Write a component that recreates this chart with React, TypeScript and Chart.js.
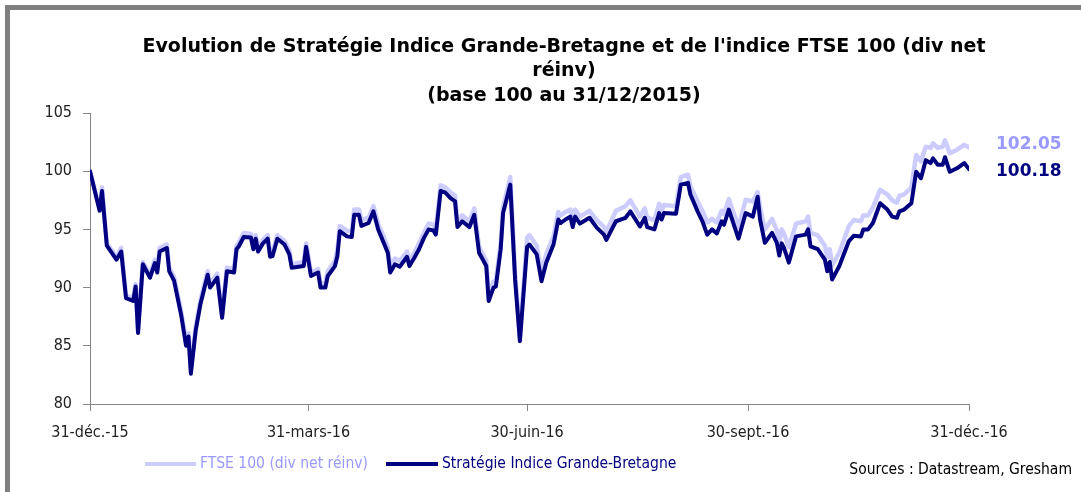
import React, { useEffect, useRef } from 'react';
import { Chart, registerables } from 'chart.js';

Chart.register(...registerables);

// Days since 31/12/2015
const days = [
  0, 4, 5, 7, 11, 13, 15, 18, 19, 20, 22, 25, 27, 28, 29, 32, 33, 35, 38, 40,
  41, 42, 44, 46, 49, 50, 53, 55, 57, 60, 61, 62, 64, 67, 68, 69, 70, 72, 74, 75,
  76, 78, 81, 83, 84, 89, 90, 92, 95, 96, 98, 99, 102, 103, 104, 107, 109, 110, 112, 113,
  116, 118, 120, 124, 125, 127, 129, 132, 133, 135, 137, 139, 141, 143, 144, 146, 148, 150, 152, 153,
  155, 158, 160, 162, 165, 166, 168, 169, 171, 172, 175, 177, 179, 182, 183, 186, 188, 190, 193, 195,
  196, 198, 200, 201, 202, 204, 208, 211, 214, 215, 219, 223, 225, 229, 231, 232, 235, 237, 238, 239,
  244, 246, 249, 250, 253, 255, 257, 259, 261, 263, 264, 266, 270, 273, 276, 278, 279, 281, 284, 286,
  287, 288, 289, 291, 294, 298, 299, 300, 303, 306, 307, 308, 309, 312, 316, 318, 321, 322, 324, 326,
  329, 332, 334, 336, 337, 339, 342, 344, 346, 348, 350, 351, 353, 355, 356, 358, 361, 364, 366,
];

const strategie = [
  100.0, 96.6, 98.3, 93.6, 92.4, 93.1, 89.1, 88.85, 90.1, 86.1, 92.0, 90.85, 92.1, 91.3, 93.1, 93.4, 91.4, 90.6, 87.6, 85.0,
  85.8, 82.6, 86.3, 88.6, 91.1, 90.0, 90.85, 87.4, 91.4, 91.3, 93.3, 93.55, 94.35, 94.3, 93.3, 94.2, 93.1, 93.8, 94.2, 92.65,
  92.7, 94.2, 93.7, 92.85, 91.7, 91.85, 93.5, 91.0, 91.3, 90.0, 90.0, 91.0, 91.85, 92.7, 94.85, 94.4, 94.35, 96.25, 96.25, 95.3,
  95.55, 96.55, 95.0, 93.0, 91.3, 92.0, 91.8, 92.65, 91.85, 92.55, 93.3, 94.25, 95.0, 94.9, 94.55, 98.3, 98.15, 97.7, 97.4, 95.2,
  95.7, 95.2, 96.25, 93.0, 91.85, 88.85, 90.0, 90.1, 93.3, 96.4, 98.85, 90.7, 85.4, 93.5, 93.7, 92.85, 90.55, 92.15, 93.7, 95.85,
  95.55, 95.85, 96.1, 95.2, 96.1, 95.5, 96.0, 95.15, 94.55, 94.1, 95.7, 96.0, 96.55, 95.25, 96.0, 95.2, 95.0, 96.4, 95.85, 96.4,
  96.35, 98.85, 99.0, 98.0, 96.55, 95.7, 94.55, 95.0, 94.65, 95.7, 95.4, 96.7, 94.2, 96.4, 96.1, 97.8, 95.85, 93.85, 94.7, 93.85,
  92.75, 93.8, 93.4, 92.15, 94.4, 94.55, 95.0, 93.55, 93.3, 92.4, 91.4, 92.2, 90.7, 91.85, 94.0, 94.45, 94.4, 95.0, 95.0, 95.55,
  97.25, 96.7, 96.1, 96.0, 96.55, 96.7, 97.25, 99.95, 99.4, 100.95, 100.7, 101.1, 100.55, 100.55, 101.2, 99.95, 100.25, 100.7, 100.18,
];

const ftse = [
  100.0, 96.8, 98.6, 93.8, 92.6, 93.4, 89.3, 89.1, 90.3, 86.4, 92.2, 91.1, 92.4, 91.6, 93.4, 93.7, 91.7, 90.9, 87.9, 85.3,
  86.1, 83.0, 86.6, 88.9, 91.4, 90.3, 91.2, 87.7, 91.7, 91.6, 93.6, 93.9, 94.7, 94.6, 93.6, 94.5, 93.4, 94.1, 94.5, 92.9,
  93.0, 94.5, 94.0, 93.2, 92.0, 92.2, 93.8, 91.3, 91.6, 90.3, 90.4, 91.4, 92.3, 93.2, 95.3, 94.9, 94.8, 96.7, 96.7, 95.8,
  96.0, 97.0, 95.5, 93.5, 91.8, 92.5, 92.3, 93.1, 92.3, 93.0, 93.8, 94.7, 95.5, 95.4, 95.0, 98.8, 98.6, 98.2, 97.9, 95.7,
  96.2, 95.7, 96.8, 93.5, 92.3, 89.3, 90.5, 90.6, 93.8, 96.9, 99.5, 91.2, 85.8, 94.3, 94.5, 93.6, 91.3, 92.9, 94.4, 96.5,
  96.2, 96.5, 96.7, 95.8, 96.7, 96.1, 96.6, 95.8, 95.2, 94.8, 96.6, 97.0, 97.5, 96.1, 96.8, 96.0, 95.8, 97.2, 96.6, 97.1,
  97.0, 99.5, 99.7, 98.7, 97.4, 96.6, 95.6, 95.9, 95.6, 96.6, 96.3, 97.6, 95.2, 97.55, 97.4, 98.2, 96.9, 95.0, 95.9, 94.9,
  94.0, 95.0, 94.6, 93.5, 95.5, 95.7, 96.1, 94.7, 94.5, 93.6, 92.6, 93.3, 91.9, 93.0, 95.3, 95.8, 95.7, 96.2, 96.2, 96.9,
  98.4, 98.0, 97.5, 97.3, 97.9, 98.0, 98.6, 101.4, 100.85, 102.1, 102.0, 102.4, 102.0, 102.1, 102.65, 101.55, 101.85, 102.25, 102.05,
];

const tickDays = [0, 91, 182, 274, 366];
const tickLabels = ['31-déc.-15', '31-mars-16', '30-juin-16', '30-sept.-16', '31-déc.-16'];
const titleLines = [
  "Evolution de Stratégie Indice Grande-Bretagne et de l'indice FTSE 100 (div net",
  'réinv)',
  '(base 100 au 31/12/2015)',
];
const seriesNames = ['FTSE 100 (div net réinv)', 'Stratégie Indice Grande-Bretagne'];
const sourceText = 'Sources : Datastream, Gresham';
const endLabels = ['102.05', '100.18'];

const FONT = '"DejaVu Sans Condensed", "DejaVu Sans", sans-serif';
const WIDE = '"DejaVu Sans", sans-serif';
const LIGHT = '#ccccff';
const LIGHT_TEXT = '#9999ff';
const DARK = '#000080';
const GREY = '#868686';

const decor = {
  id: 'decor',
  beforeDraw(chart: any) {
    const ctx = chart.ctx;
    ctx.save();
    ctx.fillStyle = '#ffffff';
    ctx.fillRect(0, 0, chart.width, chart.height);
    ctx.fillStyle = '#808080';
    ctx.fillRect(5, 5, chart.width - 5, 5);
    ctx.fillRect(5, 5, 5, chart.height - 5);
    ctx.restore();
  },
  afterDraw(chart: any) {
    const ctx = chart.ctx;
    const ys = chart.scales.y;
    ctx.save();
    // Title
    ctx.fillStyle = '#000000';
    ctx.font = `bold 19px ${WIDE}`;
    ctx.textAlign = 'center';
    ctx.textBaseline = 'middle';
    const ty = [47, 71, 96];
    titleLines.forEach((t, i) => ctx.fillText(t, 564, ty[i]));

    // End labels
    ctx.font = `bold 17px ${WIDE}`;
    ctx.textAlign = 'left';
    ctx.fillStyle = LIGHT_TEXT;
    ctx.fillText(endLabels[0], 996, ys.getPixelForValue(ftse[ftse.length - 1]) - 3);
    ctx.fillStyle = DARK;
    ctx.fillText(endLabels[1], 996, ys.getPixelForValue(strategie[strategie.length - 1]) + 2);

    // Legend
    ctx.lineCap = 'butt';
    ctx.lineWidth = 4;
    ctx.strokeStyle = LIGHT;
    ctx.beginPath();
    ctx.moveTo(145, 464);
    ctx.lineTo(196, 464);
    ctx.stroke();
    ctx.strokeStyle = DARK;
    ctx.beginPath();
    ctx.moveTo(386, 464);
    ctx.lineTo(438, 464);
    ctx.stroke();
    ctx.font = `15.5px ${FONT}`;
    ctx.fillStyle = LIGHT_TEXT;
    ctx.fillText(seriesNames[0], 200, 464);
    ctx.fillStyle = DARK;
    ctx.fillText(seriesNames[1], 442, 464);

    // Sources
    ctx.fillStyle = '#000000';
    ctx.textAlign = 'right';
    ctx.fillText(sourceText, 1072, 470);
    ctx.restore();
  },
};

export default function App() {
  const ref = useRef<HTMLCanvasElement | null>(null);
  useEffect(() => {
    document.body.style.margin = '0';
    const canvas = ref.current;
    if (!canvas) return;
    const chart = new Chart(canvas, {
      type: 'line',
      data: {
        datasets: [
          {
            label: seriesNames[1],
            data: days.map((d, i) => ({ x: d, y: strategie[i] })),
            borderColor: DARK,
            borderWidth: 4,
            pointRadius: 0,
            tension: 0,
            borderJoinStyle: 'round',
            borderCapStyle: 'round',
            order: 0,
          },
          {
            label: seriesNames[0],
            data: days.map((d, i) => ({ x: d, y: ftse[i] })),
            borderColor: LIGHT,
            borderWidth: 4.5,
            pointRadius: 0,
            tension: 0,
            borderJoinStyle: 'round',
            borderCapStyle: 'round',
            order: 1,
          },
        ],
      },
      options: {
        animation: false,
        responsive: false,
        maintainAspectRatio: false,
        layout: { padding: { top: 113, right: 112, bottom: 0, left: 0 } },
        plugins: {
          legend: { display: false },
          title: { display: false },
          tooltip: { enabled: false },
        },
        scales: {
          x: {
            type: 'linear',
            min: 0,
            max: 366,
            afterFit: (s: any) => {
              s.height = 88;
            },
            afterBuildTicks: (s: any) => {
              s.ticks = tickDays.map((v) => ({ value: v }));
            },
            ticks: {
              autoSkip: false,
              maxRotation: 0,
              padding: 12,
              color: '#222222',
              font: { family: FONT, size: 16 },
              callback: (v: any) => {
                const i = tickDays.indexOf(Number(v));
                return i >= 0 ? tickLabels[i] : '';
              },
            },
            grid: { drawOnChartArea: false, drawTicks: true, tickLength: 7, color: GREY },
            border: { display: true, color: GREY },
          },
          y: {
            min: 80,
            max: 105,
            afterFit: (s: any) => {
              s.width = 90;
            },
            ticks: {
              stepSize: 5,
              padding: 11,
              color: '#222222',
              font: { family: FONT, size: 16 },
            },
            grid: { drawOnChartArea: false, drawTicks: true, tickLength: 7, color: GREY },
            border: { display: true, color: GREY },
          },
        },
      },
      plugins: [decor],
    });
    return () => chart.destroy();
  }, []);
  return (
    <div style={{ width: 1081, height: 492 }}>
      <canvas ref={ref} width={1081} height={492} style={{ display: 'block' }} />
    </div>
  );
}
